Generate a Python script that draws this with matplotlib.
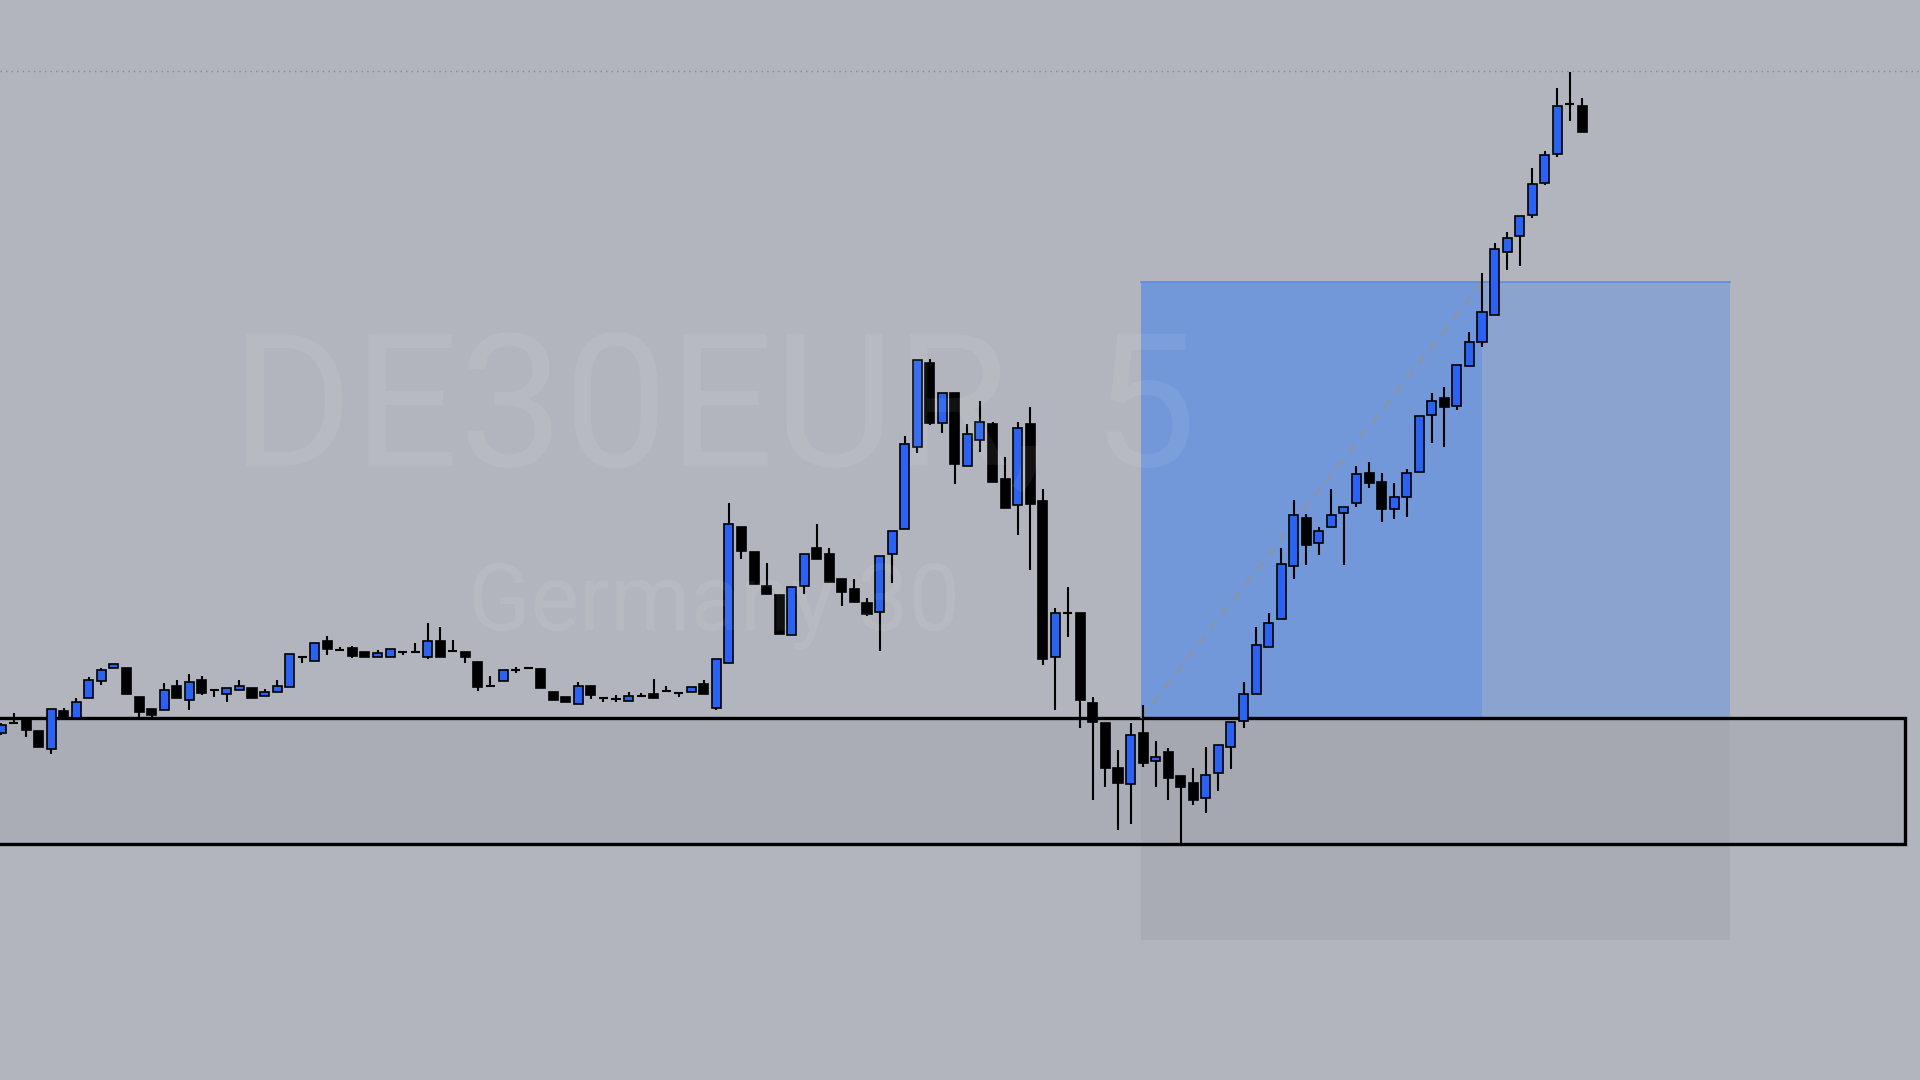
import matplotlib.pyplot as plt
from matplotlib.patches import Rectangle

# DE30EUR 5 min candles (price units)
opens = [347, 358, 361, 349, 331, 369, 362, 382, 399, 412, 412, 383, 371, 370, 394, 380, 400, 390, 386, 390,
         392, 384, 388, 393, 423, 419, 439, 430, 432, 428, 423, 423, 428, 428, 423, 439, 429, 428, 418, 394,
         399, 410, 412, 411, 388, 383, 376, 394, 382, 381, 379, 384, 386, 389, 387, 388, 396, 372, 417, 553,
         528, 494, 485, 445, 494, 532, 526, 501, 491, 477, 468, 526, 551, 633, 717, 657, 687, 614, 640, 656,
         601, 575, 656, 579, 423, 467, 467, 377, 357, 312, 296, 347, 319, 328, 304, 297, 282, 307, 333, 359,
         386, 433, 461, 514, 562, 537, 553, 567, 577, 607, 598, 571, 583, 608, 665, 682, 674, 714, 738, 765,
         828, 844, 865, 897, 926, 976, 974]
highs = [357, 367, 361, 349, 371, 372, 382, 403, 412, 416, 412, 383, 371, 397, 400, 406, 404, 390, 392, 400,
         392, 391, 400, 426, 423, 437, 444, 433, 434, 428, 430, 431, 428, 437, 457, 453, 440, 428, 418, 404,
         410, 413, 412, 412, 388, 383, 398, 394, 382, 385, 388, 387, 401, 394, 387, 393, 400, 421, 577, 553,
         528, 517, 485, 493, 526, 556, 532, 501, 501, 482, 524, 549, 644, 720, 721, 687, 687, 656, 679, 658,
         623, 658, 673, 591, 472, 493, 467, 383, 357, 330, 357, 375, 339, 332, 304, 312, 333, 335, 358, 398,
         453, 467, 532, 580, 566, 553, 591, 573, 614, 618, 607, 597, 611, 664, 687, 693, 715, 748, 807, 837,
         848, 864, 912, 929, 992, 1008, 982]
lows = [345, 357, 343, 333, 326, 362, 362, 382, 395, 412, 386, 363, 363, 370, 382, 370, 385, 383, 378, 390,
        382, 384, 388, 393, 417, 419, 425, 430, 422, 423, 423, 423, 425, 428, 421, 423, 429, 417, 389, 394,
        399, 407, 412, 392, 380, 378, 376, 381, 378, 378, 379, 384, 382, 389, 383, 388, 386, 370, 417, 521,
        496, 486, 446, 445, 486, 521, 498, 474, 478, 464, 429, 497, 551, 627, 655, 647, 596, 614, 628, 598,
        572, 545, 510, 415, 370, 443, 352, 280, 293, 250, 256, 313, 293, 280, 237, 275, 267, 289, 311, 352,
        386, 433, 461, 501, 515, 525, 553, 515, 573, 592, 558, 561, 563, 608, 637, 633, 670, 714, 733, 765,
        810, 814, 862, 895, 923, 959, 948]
closes = [355, 357, 350, 333, 371, 362, 378, 400, 410, 416, 386, 368, 365, 390, 382, 398, 387, 390, 392, 394,
          382, 388, 394, 426, 423, 437, 431, 430, 424, 423, 427, 431, 428, 428, 439, 423, 429, 423, 393, 394,
          410, 410, 412, 392, 380, 378, 394, 385, 382, 381, 384, 384, 382, 389, 387, 393, 386, 421, 556, 529,
          496, 486, 446, 493, 526, 521, 498, 488, 478, 466, 524, 549, 636, 720, 657, 687, 616, 646, 658, 598,
          572, 652, 576, 421, 467, 467, 380, 358, 312, 297, 345, 317, 323, 302, 293, 280, 305, 335, 358, 386,
          435, 457, 516, 565, 535, 549, 565, 573, 606, 597, 571, 583, 607, 664, 679, 673, 715, 738, 768, 831,
          842, 864, 896, 925, 974, 976, 948]

# drawn levels
entry_price = 362
target_price = 798
stop_price = 140
zone_top = 362
zone_bottom = 236.5
max_high_line = 1009

pos_start, pos_hit, pos_end = 90.8, 118, 137.8
zone_end = 151.7

bg = "#b2b5bd"
bull = "#2a63f2"
bear = "#000000"

fig = plt.figure(figsize=(19.2, 10.8), dpi=100)
fig.patch.set_facecolor(bg)
ax = fig.add_axes([0, 0, 1, 1])
ax.set_facecolor(bg)
ax.set_xlim(-0.08, 152.9)
ax.set_ylim(0, 1080)
ax.axis("off")

# watermark
fig.text(0.372, 0.5676, "DE30EUR, 5", ha="center", va="baseline", fontsize=134,
         family="Roboto", color="white", alpha=0.07)
fig.text(0.372, 0.4167, "Germany 30", ha="center", va="baseline", fontsize=66,
         family="Roboto", color="white", alpha=0.07)

# long position tool
ax.add_patch(Rectangle((pos_start, entry_price), pos_hit - pos_start, target_price - entry_price,
                       facecolor="#6f97db", edgecolor="none", alpha=0.95, zorder=1))
ax.add_patch(Rectangle((pos_hit, entry_price), pos_end - pos_hit, target_price - entry_price,
                       facecolor="#8aa4cf", edgecolor="none", zorder=1))
ax.plot([pos_start, pos_end], [target_price, target_price], color="#5f8ae0", lw=1.2, zorder=1)
ax.add_patch(Rectangle((pos_start, stop_price), pos_end - pos_start, entry_price - stop_price,
                       facecolor="#9a9da6", edgecolor="none", alpha=0.35, zorder=1))

# support zone
ax.add_patch(Rectangle((-5, zone_bottom), zone_end + 5, zone_top - zone_bottom,
                       facecolor="#a3a6ae", edgecolor="none", alpha=0.5, zorder=1.2))
ax.add_patch(Rectangle((-5, zone_bottom), zone_end + 5, zone_top - zone_bottom,
                       facecolor="none", edgecolor="black", lw=2.4, zorder=2))

# dashed projection line
ax.plot([pos_start, pos_hit], [entry_price, target_price], color="#8f939c",
        lw=1.5, ls=(0, (5, 4)), zorder=2)

# dotted high line
ax.axhline(max_high_line, color="#858891", lw=1, ls=(0, (1, 3)), zorder=2)

# candles
w = 0.72
for i, (o, h, l, c) in enumerate(zip(opens, highs, lows, closes)):
    col = bull if c > o else bear
    ax.vlines(i, l, h, color="black", lw=1.5, zorder=3)
    lo, hi = min(o, c), max(o, c)
    if hi - lo < 1.5:
        ax.hlines((o + c) / 2, i - w / 2, i + w / 2, color="black", lw=1.5, zorder=4)
    else:
        ax.add_patch(Rectangle((i - w / 2, lo), w, hi - lo, facecolor=col,
                               edgecolor="black", lw=1.2, zorder=4))

fig.savefig("out.png", dpi=100, facecolor=bg)
